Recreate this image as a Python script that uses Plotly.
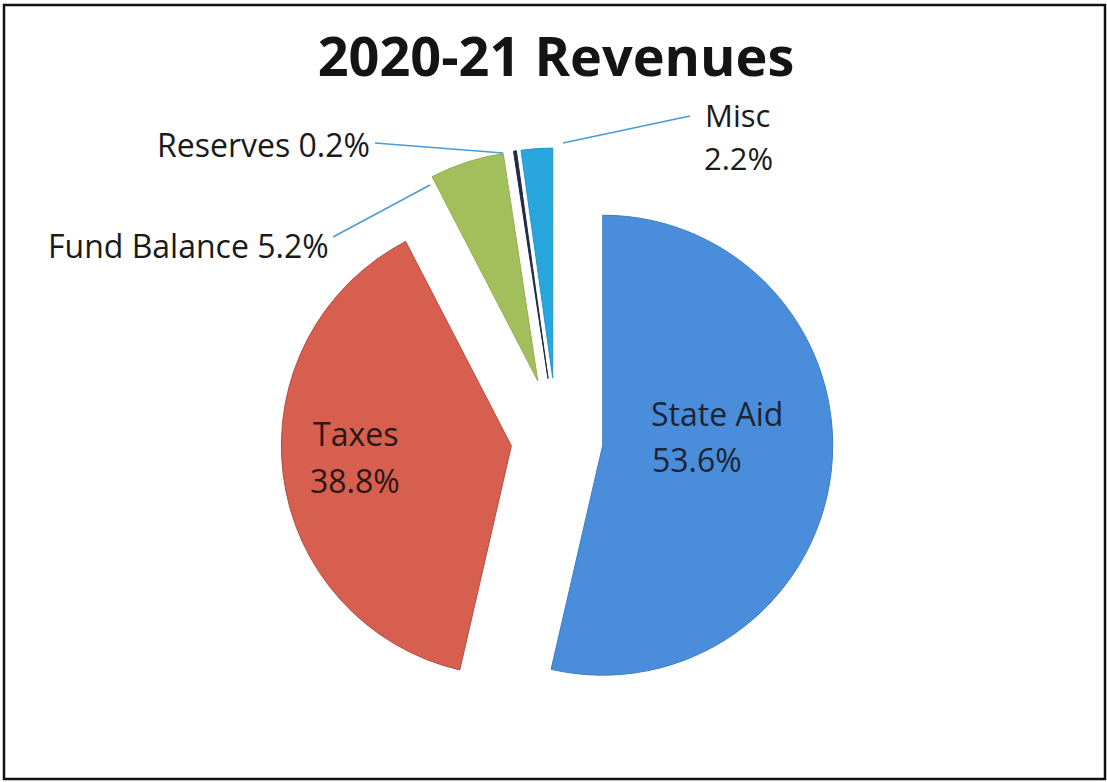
import plotly.graph_objects as go

# ---- data ----
categories = ["State Aid", "Taxes", "Fund Balance", "Reserves", "Misc"]
shares = [53.6, 38.8, 5.2, 0.2, 2.2]
title_text = "2020-21 Revenues"

# ---- styling ----
colors = ["#4a8edb", "#d65f50", "#a3bf5c", "#1f2a4a", "#28a6de"]
edge_colors = ["#3f7cc4", "#b84a3e", "#94ad52", "#1f2a4a", "#2096c9"]
pulls = [0.2, 0.2, 0.27, 0.27, 0.27]

W, H = 1107, 782
cx, cy, r = 557, 440, 230  # pixel centre / radius of the pie
side = 2 * r * (1 + max(pulls))

fig = go.Figure(go.Pie(
    labels=categories,
    values=shares,
    sort=False,
    direction="clockwise",
    rotation=0,
    pull=pulls,
    marker=dict(colors=colors, line=dict(color=edge_colors, width=1)),
    textinfo="none",
    textposition="none",
    hoverinfo="label+percent",
    showlegend=False,
    domain=dict(x=[(cx - side / 2) / W, (cx + side / 2) / W],
                y=[(H - cy - side / 2) / H, (H - cy + side / 2) / H]),
))

font_main = "Open Sans"

# label placement in pixels: name line centre, value line centre (None = same line), text colour, leader line, size
label_layout = {
    "State Aid": dict(p1=(717, 413), p2=(697, 459), color="#1c2536", line=None, size=32),
    "Taxes": dict(p1=(355, 433), p2=(355, 480), color="#2a1716", line=None, size=32),
    "Fund Balance": dict(p1=(188, 245), p2=None, color="#1a1a1a", line=(333, 237, 430, 185), size=32),
    "Reserves": dict(p1=(263, 144), p2=None, color="#1a1a1a", line=(375, 143, 503, 153), size=32),
    "Misc": dict(p1=(737, 115), p2=(738, 158), color="#1a1a1a", line=(690, 116, 563, 143), size=31),
}

annotations = []
shapes = []


def add_text(txt, pos, color, size):
    annotations.append(dict(
        text=txt, x=pos[0] / W, y=1 - pos[1] / H, xref="paper", yref="paper",
        xanchor="center", yanchor="middle", showarrow=False, align="center",
        font=dict(family=font_main, size=size, color=color),
    ))


for cat, val in zip(categories, shares):
    lay = label_layout[cat]
    pct = f"{val:.1f}%"
    if lay["p2"] is None:
        add_text(f"{cat} {pct}", lay["p1"], lay["color"], lay["size"])
    else:
        add_text(cat, lay["p1"], lay["color"], lay["size"])
        add_text(pct, lay["p2"], lay["color"], lay["size"])
    if lay["line"]:
        x0, y0, x1, y1 = lay["line"]
        shapes.append(dict(type="line", xref="paper", yref="paper",
                           x0=x0 / W, y0=1 - y0 / H, x1=x1 / W, y1=1 - y1 / H,
                           line=dict(color="#4a9bd3", width=1.5)))

# outer frame
shapes.append(dict(type="rect", xref="paper", yref="paper",
                   x0=4 / W, y0=1 - 779 / H, x1=1105 / W, y1=1 - 5 / H,
                   line=dict(color="#111111", width=2.5), fillcolor="rgba(0,0,0,0)"))

fig.update_layout(
    width=W, height=H,
    margin=dict(l=0, r=0, t=0, b=0),
    paper_bgcolor="white", plot_bgcolor="white",
    title=dict(text=f"<b>{title_text}</b>", x=556 / W, xanchor="center",
               y=1 - 57 / H, yanchor="middle", yref="paper",
               font=dict(family=font_main, size=54, color="#141414")),
    annotations=annotations,
    shapes=shapes,
)

fig.write_html("out.html", config={"displayModeBar": False},
               post_script="document.body.style.margin='0';")
